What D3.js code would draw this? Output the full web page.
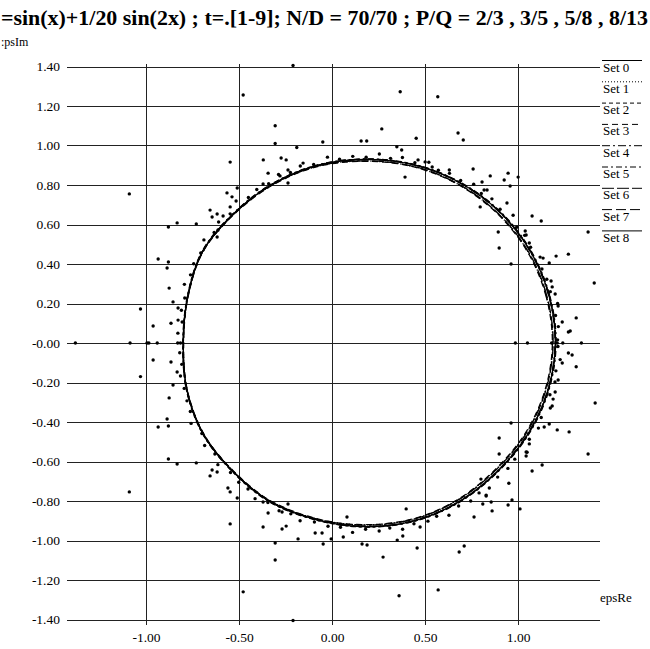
<!DOCTYPE html>
<html lang="en">
<head>
<meta charset="UTF-8">
<title>epsRe / epsIm</title>
<style>
    body { margin: 0; background: #fff; }
    svg text { font-family: 'Liberation Serif', 'Times New Roman', serif; fill: #000; }
    .grid line { stroke: #222; stroke-width: 1; shape-rendering: crispEdges; }
    .axis path { display: none; }
    .axis text { font-size: 13.5px; }
</style>
</head>
<body>
<div id="chart"></div>
<script src="https://cdn.jsdelivr.net/npm/d3@7/dist/d3.min.js"></script>
<script>
    var titleText = "=sin(x)+1/20 sin(2x) ; t=.[1-9]; N/D = 70/70 ; P/Q = 2/3 , 3/5 , 5/8 , 8/13";

    var yTicks = [1.4, 1.2, 1.0, 0.8, 0.6, 0.4, 0.2, 0, -0.2, -0.4, -0.6, -0.8, -1.0, -1.2, -1.4];
    var yTickLabels = ["1.40", "1.20", "1.00", "0.80", "0.60", "0.40", "0.20", "-0.00",
        "-0.20", "-0.40", "-0.60", "-0.80", "-1.00", "-1.20", "-1.40"];
    var xTicks = [-1.0, -0.5, 0, 0.5, 1.0];
    var xTickLabels = ["-1.00", "-0.50", "0.00", "0.50", "1.00"];

    var setNames = ["Set 0", "Set 1", "Set 2", "Set 3", "Set 4", "Set 5", "Set 6", "Set 7", "Set 8"];
    var setDash = ["none", "1,2", "4,3", "6,4", "8,3,2,3", "6,3,2,3", "12,3", "10,4", "none"];

    // closed curves, [epsRe, epsIm]
    var set0 = [[1.200,0.000],[1.166,0.241],[1.066,0.465],[0.907,0.658],[0.700,0.805],[0.459,0.898],[0.200,0.930],[-0.075,0.900],[-0.320,0.805],[-0.525,0.658],[-0.695,0.465],[-0.775,0.241],[-0.800,0.000],[-0.780,-0.241],[-0.690,-0.465],[-0.525,-0.658],[-0.330,-0.805],[-0.070,-0.898],[0.190,-0.930],[0.450,-0.898],[0.680,-0.805],[0.880,-0.658],[1.050,-0.465],[1.160,-0.241]];
    var set1 = [[1.186,0.000],[1.152,0.238],[1.054,0.460],[0.897,0.650],[0.693,0.796],[0.455,0.889],[0.200,0.921],[-0.073,0.896],[-0.318,0.802],[-0.524,0.656],[-0.694,0.464],[-0.774,0.240],[-0.799,0.000],[-0.779,-0.240],[-0.689,-0.464],[-0.524,-0.656],[-0.328,-0.802],[-0.068,-0.894],[0.190,-0.921],[0.446,-0.889],[0.673,-0.796],[0.870,-0.650],[1.039,-0.460],[1.147,-0.238]];
    var set2 = [[1.202,0.000],[1.167,0.242],[1.067,0.466],[0.908,0.659],[0.701,0.806],[0.460,0.899],[0.201,0.931],[-0.076,0.901],[-0.321,0.806],[-0.526,0.659],[-0.696,0.466],[-0.776,0.242],[-0.801,0.000],[-0.781,-0.242],[-0.691,-0.466],[-0.526,-0.659],[-0.331,-0.806],[-0.071,-0.899],[0.191,-0.931],[0.451,-0.899],[0.681,-0.806],[0.881,-0.659],[1.052,-0.466],[1.162,-0.242]];
    var set3 = [[1.184,0.000],[1.150,0.237],[1.052,0.459],[0.895,0.649],[0.691,0.795],[0.454,0.888],[0.199,0.920],[-0.072,0.895],[-0.317,0.801],[-0.523,0.655],[-0.693,0.463],[-0.773,0.239],[-0.798,0.000],[-0.778,-0.239],[-0.688,-0.463],[-0.523,-0.655],[-0.327,-0.801],[-0.067,-0.893],[0.189,-0.920],[0.445,-0.888],[0.671,-0.795],[0.868,-0.649],[1.037,-0.459],[1.145,-0.237]];
    var set4 = [[1.198,0.000],[1.164,0.240],[1.064,0.464],[0.905,0.657],[0.698,0.804],[0.458,0.897],[0.199,0.929],[-0.074,0.899],[-0.319,0.804],[-0.524,0.657],[-0.694,0.464],[-0.774,0.240],[-0.800,0.000],[-0.779,-0.240],[-0.689,-0.464],[-0.524,-0.657],[-0.329,-0.804],[-0.069,-0.897],[0.189,-0.929],[0.449,-0.897],[0.679,-0.804],[0.878,-0.657],[1.048,-0.464],[1.158,-0.240]];
    var set5 = [[1.204,0.000],[1.169,0.243],[1.069,0.467],[0.910,0.660],[0.702,0.807],[0.461,0.900],[0.201,0.932],[-0.077,0.902],[-0.322,0.807],[-0.527,0.660],[-0.697,0.467],[-0.777,0.242],[-0.802,0.000],[-0.782,-0.242],[-0.692,-0.467],[-0.527,-0.660],[-0.332,-0.807],[-0.072,-0.900],[0.191,-0.932],[0.452,-0.900],[0.683,-0.807],[0.883,-0.660],[1.054,-0.467],[1.164,-0.243]];
    var set6 = [[1.188,0.000],[1.154,0.239],[1.056,0.461],[0.898,0.651],[0.694,0.797],[0.456,0.890],[0.200,0.922],[-0.074,0.897],[-0.319,0.803],[-0.525,0.657],[-0.695,0.465],[-0.775,0.241],[-0.800,0.000],[-0.780,-0.241],[-0.690,-0.465],[-0.525,-0.657],[-0.329,-0.803],[-0.069,-0.895],[0.190,-0.922],[0.447,-0.890],[0.674,-0.797],[0.872,-0.651],[1.041,-0.461],[1.149,-0.239]];
    var set7 = [[1.201,0.000],[1.166,0.241],[1.066,0.465],[0.906,0.658],[0.700,0.805],[0.459,0.898],[0.200,0.930],[-0.075,0.900],[-0.320,0.805],[-0.525,0.658],[-0.695,0.465],[-0.775,0.241],[-0.800,0.000],[-0.780,-0.241],[-0.690,-0.465],[-0.525,-0.658],[-0.330,-0.805],[-0.070,-0.898],[0.190,-0.930],[0.450,-0.898],[0.680,-0.805],[0.880,-0.658],[1.051,-0.465],[1.160,-0.241]];

    // Set 8: scattered points
    var set8RingUpper = [[1.212,0.016],[1.201,0.139],[1.173,0.260],[1.128,0.375],[1.067,0.485],[0.992,0.586],[0.903,0.677],[0.802,0.757],[0.691,0.823],[0.571,0.875],[0.445,0.913],[0.314,0.935],[0.183,0.941],[0.040,0.931],[-0.099,0.904],[-0.224,0.863],[-0.341,0.806],[-0.450,0.737],[-0.548,0.654],[-0.634,0.560],[-0.706,0.456],[-0.761,0.345],[-0.792,0.228],[-0.806,0.106]];
    var set8RingLower = [[1.214,-0.018],[1.203,-0.141],[1.171,-0.262],[1.124,-0.377],[1.060,-0.487],[0.982,-0.588],[0.890,-0.679],[0.790,-0.759],[0.680,-0.825],[0.562,-0.877],[0.440,-0.915],[0.310,-0.937],[0.180,-0.943],[0.045,-0.933],[-0.095,-0.906],[-0.222,-0.865],[-0.345,-0.808],[-0.452,-0.739],[-0.546,-0.656],[-0.630,-0.562],[-0.700,-0.458],[-0.762,-0.347],[-0.795,-0.230],[-0.808,-0.108]];
    var set8NearUpper = [[1.216,0.083],[1.212,0.200],[1.154,0.323],[1.118,0.435],[1.035,0.545],[0.973,0.647],[0.859,0.730],[0.761,0.804],[0.631,0.859],[0.520,0.915],[0.378,0.939],[0.254,0.957],[0.111,0.945],[-0.025,0.941],[-0.171,0.896],[-0.288,0.853],[-0.405,0.777],[-0.516,0.719],[-0.610,0.613],[-0.689,0.522],[-0.744,0.401],[-0.794,0.297],[-0.810,0.166],[-0.829,0.050]];
    var set8NearLower = [[1.226,-0.084],[1.198,-0.197],[1.173,-0.329],[1.109,-0.431],[1.048,-0.553],[0.945,-0.635],[0.845,-0.734],[0.745,-0.800],[0.628,-0.872],[0.515,-0.902],[0.379,-0.943],[0.253,-0.952],[0.110,-0.959],[-0.022,-0.928],[-0.172,-0.900],[-0.285,-0.849],[-0.414,-0.788],[-0.502,-0.705],[-0.614,-0.616],[-0.685,-0.519],[-0.758,-0.407],[-0.780,-0.293],[-0.815,-0.167],[-0.819,-0.049]];
    var set8Upper = [[-0.21,1.405],[-0.478,1.256],[0.366,1.272],[0.568,1.247],[0.267,1.084],[-0.306,1.10],[0.452,1.037],[0.677,1.063],[0.705,1.028],[-0.05,1.018],[0.156,1.023],[0.186,1.023],[0.348,0.994],[0.374,0.977],[-0.306,1.01],[-0.19,0.99],[-0.548,0.916],[-0.37,0.927],[-0.274,0.937],[-0.247,0.927],[-0.156,0.911],[0.462,0.927],[0.50,0.917],[0.392,0.84],[0.538,0.891],[0.63,0.876],[0.758,0.881],[0.806,0.815],[0.85,0.846],[0.925,0.825],[0.946,0.86],[0.957,0.795],[1.0,0.84],[0.817,0.775],[0.833,0.775],[0.796,0.689],[0.94,0.709],[1.075,0.643],[1.124,0.618],[1.376,0.562],[0.893,0.562],[0.898,0.481],[1.038,0.567],[1.043,0.547],[1.06,0.506],[0.962,0.40],[1.204,0.44],[1.27,0.45],[1.134,0.43],[1.167,0.405],[1.177,0.314],[1.183,0.284],[1.409,0.304],[1.312,0.127],[1.237,0.106],[1.28,0.061],[1.27,0.056],[1.215,0.187],[1.199,0.248],
        [-1.09,0.755],[-0.344,0.86],[-0.237,0.876],[-0.28,0.846],[-0.237,0.81],[-0.371,0.805],[-0.51,0.785],[-0.565,0.76],[-0.538,0.74],[-0.656,0.673],[-0.645,0.638],[-0.618,0.653],[-0.586,0.643],[-0.548,0.689],[-0.88,0.587],[-0.833,0.608],[-0.73,0.603],[-0.935,0.425],[-0.88,0.41],[-0.887,0.38],[-0.876,0.278],[-0.618,0.537],[-0.613,0.572],[-1.03,0.172],[-0.962,0.086],[-0.866,0.10],[-0.855,0.208],[-0.828,0.177],[-0.828,0.116]];
    var set8Lower = [[-0.21,-1.405],[-0.478,-1.26],[0.36,-1.28],[0.57,-1.25],[0.274,-1.084],[-0.306,-1.099],[0.457,-1.038],[0.683,-1.058],[0.71,-1.028],[-0.048,-1.018],[0.161,-1.018],[0.188,-1.023],[0.35,-0.998],[0.38,-0.977],[-0.306,-1.013],[-0.183,-0.992],[-0.548,-0.916],[-0.371,-0.932],[-0.269,-0.942],[-0.247,-0.927],[-0.091,-0.962],[-0.054,-0.962],[-0.005,-0.992],[0.06,-0.982],[0.08,-0.881],[0.473,-0.932],[0.398,-0.84],[0.763,-0.881],[0.81,-0.815],[0.828,-0.775],[0.855,-0.805],[0.86,-0.85],[0.946,-0.82],[0.967,-0.795],[1.01,-0.84],[0.95,-0.71],[0.8,-0.689],[0.828,-0.77],[1.075,-0.648],[1.129,-0.618],[1.376,-0.562],[0.898,-0.562],[0.898,-0.481],[1.043,-0.552],[1.043,-0.572],[1.06,-0.511],[0.962,-0.405],[1.21,-0.44],[1.274,-0.45],[1.14,-0.425],[1.167,-0.41],[1.183,-0.319],[1.188,-0.284],[1.414,-0.304],[1.312,-0.12],[1.237,-0.101],[1.29,-0.061],[1.27,-0.051],[1.215,-0.187],[1.199,-0.248],
        [-1.09,-0.754],[-0.344,-0.861],[-0.237,-0.815],[-0.269,-0.856],[-0.371,-0.805],[-0.51,-0.785],[-0.548,-0.754],[-0.56,-0.734],[-0.656,-0.673],[-0.645,-0.643],[-0.618,-0.653],[-0.88,-0.587],[-0.833,-0.613],[-0.73,-0.607],[-0.935,-0.425],[-0.88,-0.42],[-0.887,-0.385],[-0.876,-0.278],[-0.855,-0.213],[-0.833,-0.147],[-1.03,-0.17],[-0.962,-0.086],[-0.866,-0.096]];
    var set8Axis = [[-1.38,0],[-1.086,0],[-0.995,0],[-0.985,0],[-0.94,0],[-0.83,0],[-0.815,0],[0.985,0],[1.05,0],[1.18,0],[1.21,0],[1.24,0],[1.34,0]];

    var curves = [set0, set1, set2, set3, set4, set5, set6, set7];
    var set8 = set8RingUpper.concat(set8RingLower, set8NearUpper, set8NearLower, set8Upper, set8Lower, set8Axis);

    var width = 650, height = 649;
    var plot = {left: 67, right: 600, top: 66.5, bottom: 619.5};
    var serif = "'Liberation Serif', 'Times New Roman', serif";

    var x = d3.scaleLinear().domain([-1.425, 1.44]).range([plot.left, plot.right]);
    var y = d3.scaleLinear().domain([-1.4, 1.4]).range([plot.bottom, plot.top]);

    var svg = d3.select("#chart").append("svg")
        .attr("width", width)
        .attr("height", height);

    // title and axis names
    svg.append("text")
        .attr("x", 1)
        .attr("y", 25)
        .attr("textLength", 647)
        .attr("lengthAdjust", "spacingAndGlyphs")
        .style("font-family", serif)
        .style("font-size", "21px")
        .style("font-weight", "bold")
        .text(titleText);

    svg.append("text")
        .attr("x", 1)
        .attr("y", 46)
        .style("font-family", serif)
        .style("font-size", "12px")
        .text(":psIm");

    svg.append("text")
        .attr("x", 600)
        .attr("y", 602)
        .style("font-family", serif)
        .style("font-size", "13px")
        .text("epsRe");

    // grid
    var grid = svg.append("g").attr("class", "grid");
    grid.selectAll(".h").data(yTicks).enter().append("line")
        .attr("x1", plot.left).attr("x2", plot.right)
        .attr("y1", function (d) { return Math.round(y(d)) + 0.5; })
        .attr("y2", function (d) { return Math.round(y(d)) + 0.5; });
    grid.selectAll(".v").data(xTicks).enter().append("line")
        .attr("y1", plot.top - 3).attr("y2", plot.bottom + 5)
        .attr("x1", function (d) { return Math.round(x(d)) + 0.5; })
        .attr("x2", function (d) { return Math.round(x(d)) + 0.5; });

    // axes, labels only
    svg.append("g")
        .attr("class", "axis")
        .attr("transform", "translate(" + plot.left + ",0)")
        .call(d3.axisLeft(y).tickValues(yTicks).tickSize(0).tickPadding(7)
            .tickFormat(function (d, i) { return yTickLabels[i]; }))
        .attr("font-family", serif)
        .selectAll("text").style("font-family", serif);

    svg.append("g")
        .attr("class", "axis")
        .attr("transform", "translate(0," + plot.bottom + ")")
        .call(d3.axisBottom(x).tickValues(xTicks).tickSize(0).tickPadding(13)
            .tickFormat(function (d, i) { return xTickLabels[i]; }))
        .attr("font-family", serif)
        .selectAll("text").style("font-family", serif);

    // curves
    var line = d3.line()
        .x(function (d) { return x(d[0]); })
        .y(function (d) { return y(d[1]); })
        .curve(d3.curveCatmullRomClosed);

    svg.append("g").selectAll("path")
        .data(curves)
        .enter().append("path")
        .attr("d", line)
        .attr("fill", "none")
        .attr("stroke", "#000")
        .attr("stroke-width", 1.3)
        .attr("stroke-dasharray", function (d, i) { return setDash[i]; });

    // set 8 points
    svg.append("g").selectAll("circle")
        .data(set8)
        .enter().append("circle")
        .attr("cx", function (d) { return x(d[0]); })
        .attr("cy", function (d) { return y(d[1]); })
        .attr("r", 1.7)
        .attr("fill", "#000");

    // legend
    var legend = svg.append("g").selectAll("g")
        .data(setNames)
        .enter().append("g")
        .attr("transform", function (d, i) { return "translate(602," + (60.5 + i * 21.3) + ")"; });

    legend.append("line")
        .attr("x1", 0).attr("x2", 40)
        .attr("stroke", "#000")
        .attr("stroke-width", 1)
        .attr("stroke-dasharray", function (d, i) { return setDash[i]; });

    legend.append("text")
        .attr("x", 1)
        .attr("y", 11)
        .style("font-family", serif)
        .style("font-size", "13px")
        .text(function (d) { return d; });
</script>
</body>
</html>
